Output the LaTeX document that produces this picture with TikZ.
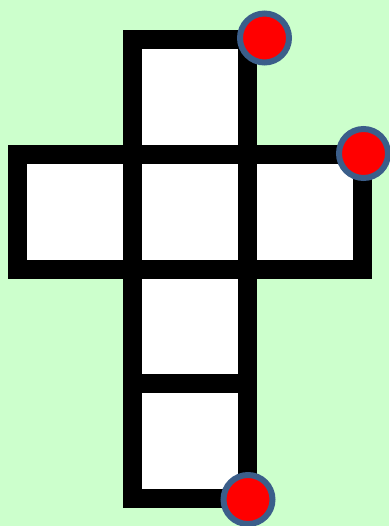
\documentclass[tikz,border=0pt]{standalone}
\usepackage{xcolor}
\usepackage{tikz}
\usetikzlibrary{positioning}

\definecolor{paleGreen}{RGB}{204,255,204}
\definecolor{rimBlue}{RGB}{59,94,138}

\begin{document}
\begin{tikzpicture}[
  x=1pt, y=-1pt,
  node distance=0pt,
  face/.style={draw=black, fill=white, line width=19pt, inner sep=0pt, outer sep=0pt,
    minimum width=114.75pt, minimum height=114.75pt},
  dot/.style={circle, fill=red, draw=rimBlue, line width=6pt, inner sep=0pt, minimum size=49pt}
]
\fill[paleGreen] (0,0) rectangle (389,526);
\useasboundingbox (0,0) rectangle (389,526);
% cube net
\node[face] (top) at (190,97) {};
\node[face, below=of top] (mid) {};
\node[face, left=of mid] (west) {};
\node[face, right=of mid] (east) {};
\node[face, below=of mid] (low) {};
\node[face, below=of low] (base) {};
% marked corners
\node[dot] (dotA) at (264.5,38) {};
\node[dot] (dotB) at (363.5,153.5) {};
\node[dot] (dotC) at (248,499.5) {};
\end{tikzpicture}
\end{document}
